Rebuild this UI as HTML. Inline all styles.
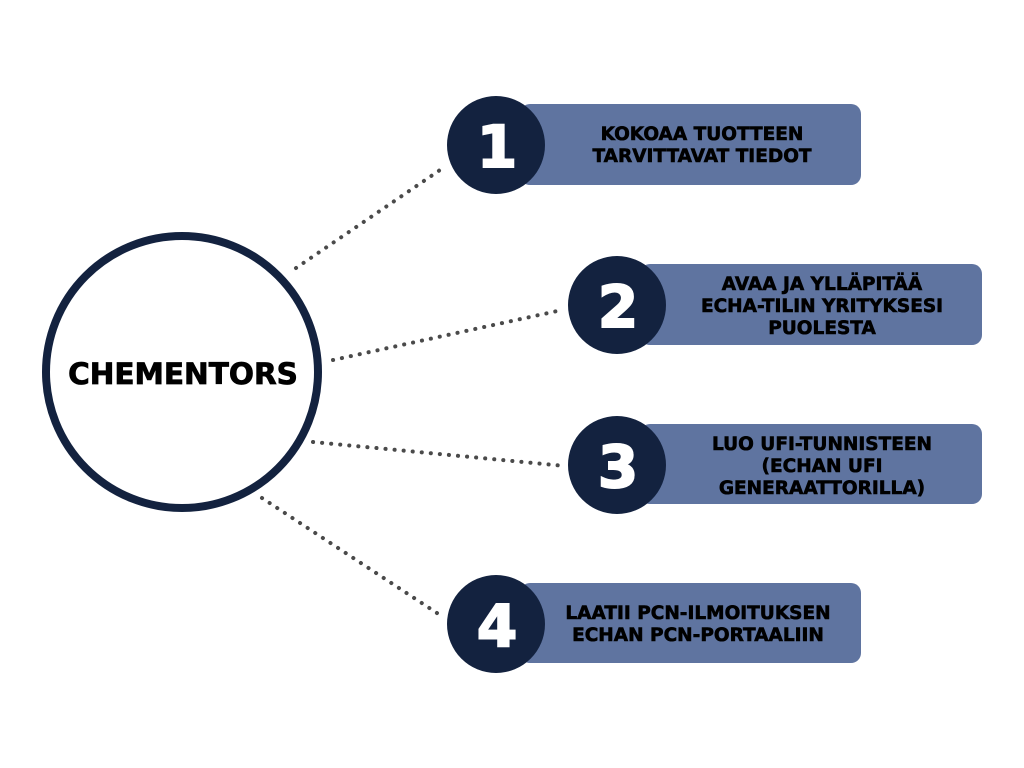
<!DOCTYPE html>
<html><head><meta charset="utf-8"><style>
html,body{margin:0;padding:0;background:#fff;}
svg{display:block}
text{font-family:"DejaVu Sans","Liberation Sans",sans-serif;font-weight:bold;}
</style></head><body>
<svg width="1024" height="768" viewBox="0 0 1024 768" xmlns="http://www.w3.org/2000/svg">
<g stroke="#4a4a4a" stroke-width="4" stroke-dasharray="0.1 9" stroke-linecap="round" fill="none">
<line x1="296" y1="268" x2="440" y2="170"/>
<line x1="333" y1="360" x2="562" y2="310"/>
<line x1="313" y1="442" x2="565" y2="466"/>
<line x1="262" y1="498" x2="440" y2="615"/>
</g>
<circle cx="182" cy="372" r="136" fill="#fff" stroke="#13223f" stroke-width="8"/>
<text x="183" y="384" text-anchor="middle" font-size="29.5" fill="#000" stroke="#000" stroke-width="0.8">CHEMENTORS</text>
<g fill="#5f74a0">
<rect x="520" y="104" width="341" height="81" rx="10"/>
<rect x="640" y="264" width="342" height="81" rx="10"/>
<rect x="640" y="424" width="342" height="80" rx="10"/>
<rect x="520" y="583" width="341" height="80" rx="10"/>
</g>
<g fill="#13223f">
<circle cx="496" cy="145" r="49"/>
<circle cx="617" cy="305" r="49"/>
<circle cx="617" cy="465" r="49"/>
<circle cx="496" cy="624" r="49"/>
</g>
<g fill="#fff" stroke="#fff" stroke-width="2" font-size="58" text-anchor="middle">
<text x="497" y="167">1</text>
<text x="618" y="327">2</text>
<text x="618" y="487">3</text>
<text x="497" y="646">4</text>
</g>
<g fill="#000" stroke="#000" stroke-width="0.6" font-size="18.5" text-anchor="middle">
<text x="702" y="140">KOKOAA TUOTTEEN</text>
<text x="702" y="162">TARVITTAVAT TIEDOT</text>
<text x="822" y="290">AVAA JA YLLÄPITÄÄ</text>
<text x="822" y="312">ECHA-TILIN YRITYKSESI</text>
<text x="822" y="334">PUOLESTA</text>
<text x="822" y="450">LUO UFI-TUNNISTEEN</text>
<text x="822" y="472">(ECHAN UFI</text>
<text x="822" y="494">GENERAATTORILLA)</text>
<text x="698" y="619">LAATII PCN-ILMOITUKSEN</text>
<text x="698" y="641">ECHAN PCN-PORTAALIIN</text>
</g>
</svg>
</body></html>
